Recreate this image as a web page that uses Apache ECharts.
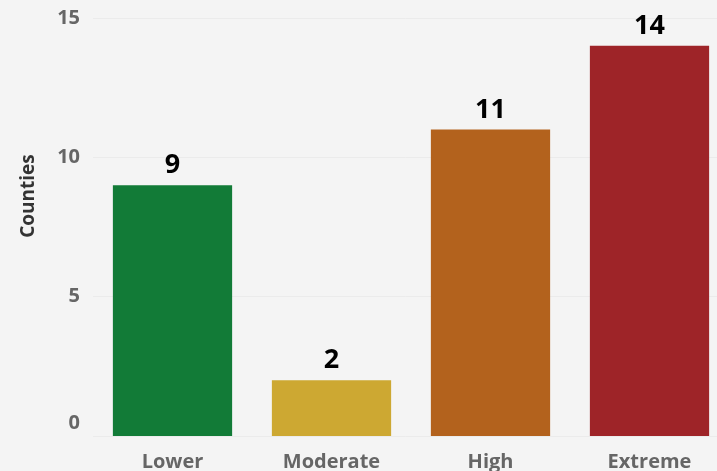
<!DOCTYPE html>
<html>
<head>
<meta charset="utf-8">
<script src="https://cdn.jsdelivr.net/npm/echarts@6/dist/echarts.min.js"></script>
<style>
html, body { margin: 0; padding: 0; background: #f4f4f4; }
#chart { width: 717px; height: 471px; }
</style>
</head>
<body>
<div id="chart"></div>
<script type="text/javascript">
var categories = ['Lower', 'Moderate', 'High', 'Extreme'];
var counts = [9, 2, 11, 14];
var barColors = ['#127b37', '#cda832', '#b3621d', '#9e2428'];
var yTicks = [0, 5, 10, 15];

var myChart = echarts.init(document.getElementById('chart'));
var option = {
    backgroundColor: '#f4f4f4',
    textStyle: { fontFamily: 'Open Sans' },
    grid: { left: 93, top: 18, width: 636, bottom: 35, outerBoundsMode: 'none' },
    xAxis: {
        type: 'category',
        data: categories,
        axisLine: { show: false },
        axisTick: { show: false },
        axisLabel: { color: '#666', fontSize: 20, fontWeight: 'bold', margin: 16 }
    },
    yAxis: {
        type: 'value',
        min: yTicks[0],
        max: yTicks[yTicks.length - 1],
        interval: 5,
        name: 'Counties',
        nameLocation: 'middle',
        nameGap: 55,
        nameTextStyle: { color: '#333', fontSize: 19, fontWeight: 'bold', padding: [0, 0, 0, 62] },
        axisLabel: {
            color: '#666', fontSize: 20, fontWeight: 'bold', margin: 13,
            // the 0 label sits a little above the baseline in the original
            formatter: function (v) { return v === 0 ? '{zero|0}' : String(v); },
            rich: { zero: { color: '#666', fontSize: 20, fontWeight: 'bold', padding: [0, 0, 26, 0] } }
        },
        splitLine: { lineStyle: { color: '#ebebeb', width: 1 } }
    },
    series: [{
        type: 'bar',
        data: counts.map(function (v, i) {
            return { value: v, itemStyle: { color: barColors[i] } };
        }),
        barCategoryGap: '25%',
        label: {
            show: true,
            position: 'top',
            distance: 6,
            color: '#000',
            fontSize: 27,
            fontWeight: 'bold'
        }
    }]
};
myChart.setOption(option);
</script>
</body>
</html>
